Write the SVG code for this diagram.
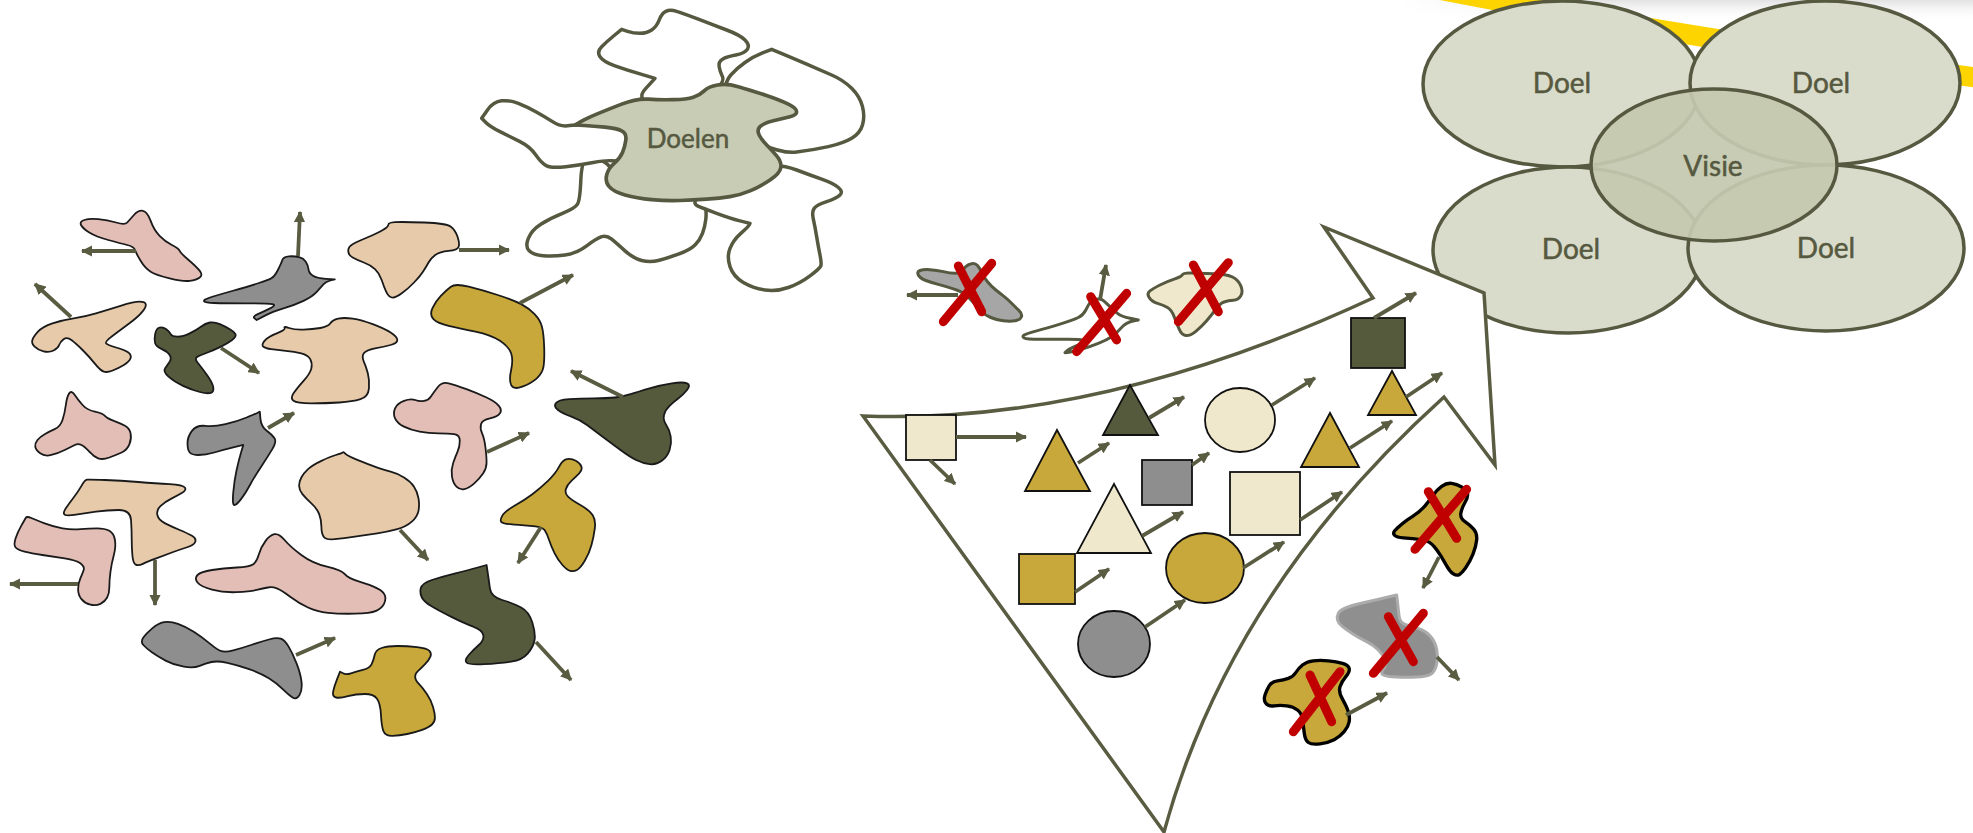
<svg xmlns="http://www.w3.org/2000/svg" width="1973" height="833" viewBox="0 0 1973 833">
<defs>
<style>
.blob{stroke:#1a1a1a;stroke-width:1.8;stroke-linejoin:round;vector-effect:non-scaling-stroke}
.pink{fill:#E3BEB6}.peach{fill:#E6CAAA}.gray{fill:#8E8E8E}.olive{fill:#555A3C}.gold{fill:#C8A83A}.cream{fill:#EFE8CC}
.cl{fill:#fff;stroke:#565940;stroke-width:10.5;stroke-linejoin:round}
.clg{fill:#C8CCB4;stroke:#565940;stroke-width:11;stroke-linejoin:round}
.arr{stroke:#5A5C42;stroke-width:3.8;fill:none;marker-end:url(#ah)}
.x{stroke:#C00000;stroke-width:27;stroke-linecap:round;fill:none}
.geo{stroke:#111;stroke-width:1.8}
.doel{fill:#DADCCB;stroke:#565940;stroke-width:3.5}
.lbl{font-family:Lato,"Open Sans","DejaVu Sans",sans-serif;fill:#565940;stroke:#565940;stroke-width:0.5;text-anchor:middle}
.tb{stroke:#565940;stroke-width:9;stroke-linejoin:round}
.kb{stroke:#000;stroke-width:10;stroke-linejoin:round}
</style>
<marker id="ah" viewBox="0 0 10 10" refX="9" refY="5" markerWidth="3" markerHeight="3" orient="auto" markerUnits="strokeWidth"><path d="M0,0 L10,5 L0,10 Z" fill="#5A5C42"/></marker>
<linearGradient id="shade" x1="0" y1="0" x2="0" y2="1"><stop offset="0" stop-color="#E2E2E2"/><stop offset="1" stop-color="#fff" stop-opacity="0"/></linearGradient>
<linearGradient id="shadeH" x1="0" y1="0" x2="1" y2="0"><stop offset="0" stop-color="#fff" stop-opacity="1"/><stop offset="0.35" stop-color="#fff" stop-opacity="0"/></linearGradient>
</defs>
<rect width="1973" height="833" fill="#fff"/>

<g id="band">
<rect x="1400" y="0" width="573" height="22" fill="url(#shade)"/>
<rect x="1400" y="0" width="573" height="22" fill="url(#shadeH)"/>
<path d="M1390,-20 Q1680,38 1980,78" stroke="#FDD300" stroke-width="20" fill="none"/>
</g>

<g id="vision">
<g id="doel-tl"><ellipse class="doel" cx="1562" cy="84" rx="139" ry="83"/><text class="lbl" x="1562" y="93" font-size="28">Doel</text></g>
<g id="doel-tr"><ellipse class="doel" cx="1825" cy="83" rx="135" ry="82"/><text class="lbl" x="1821" y="93" font-size="28">Doel</text></g>
<g id="doel-bl"><ellipse class="doel" cx="1568" cy="250" rx="135" ry="83"/><text class="lbl" x="1571" y="259" font-size="28">Doel</text></g>
<g id="doel-br"><ellipse class="doel" cx="1826" cy="248" rx="138" ry="83"/><text class="lbl" x="1826" y="258" font-size="28">Doel</text></g>
<g id="visie"><ellipse cx="1714" cy="165" rx="123" ry="76" fill="#C4C8AE" fill-opacity="0.93" stroke="#565940" stroke-width="3.5"/><text class="lbl" x="1713" y="176" font-size="28">Visie</text></g>
</g>

<g id="doelen" transform="translate(460,0) scale(0.33333)">
<path class="cl" d="M382.5,475 Q365,480 362.5,540 Q360,600 352.5,612.5 Q345,625 307.5,640 Q270,655 242.5,672.5 Q215,690 205,715 Q195,740 207.5,752.5 Q220,765 250,767.5 Q280,770 315,765 Q350,760 380,737.5 Q410,715 425,710 Q440,705 455,717.5 Q470,730 495,752.5 Q520,775 545,781.5 Q570,788 595,781.5 Q620,775 655,762.5 Q690,750 705,735 Q720,720 727.5,700 Q735,680 737.5,657.5 Q740,635 735,602.5 Q730,570 665,565 Q600,560 540,545 Q480,530 467.5,520 Q455,510 447.5,499 Q440,488 420,479 Q400,470 382.5,475Z"/>
<path class="cl" d="M717.5,585 Q695,610 712.5,617.5 Q730,625 770,640 Q810,655 840,662.5 L870,670 L867.5,675 Q865,680 842.5,700 Q820,720 810,745 Q800,770 810,800 Q820,830 850,847.5 Q880,865 915,870 Q950,875 985,862.5 Q1020,850 1050,827.5 Q1080,805 1082.5,797.5 Q1085,790 1080,765 Q1075,740 1070,710 Q1065,680 1060,657.5 Q1055,635 1062.5,625 Q1070,615 1100,605 Q1130,595 1140,585 Q1150,575 1135,562.5 Q1120,550 1085,537.5 Q1050,525 1010,510 Q970,495 935,497.5 Q900,500 820,530 Q740,560 717.5,585Z"/>
<path class="cl" d="M422.5,367.5 Q345,375 322.5,377.5 Q300,380 277.5,365 Q255,350 227.5,335 Q200,320 175,310 Q150,300 125,302.5 Q100,305 82.5,330 L65,355 L77.5,367.5 Q90,380 120,395 Q150,410 180,425 Q210,440 227.5,465 Q245,490 260,497.5 Q275,505 317.5,500 Q360,495 400,487.5 Q440,480 457.5,482.5 Q475,485 517.5,462.5 Q560,440 530,400 Q500,360 422.5,367.5Z"/>
<path class="cl" d="M565,307.5 Q530,295 557.5,265 L585,235 L542.5,222.5 Q500,210 465,197.5 Q430,185 420,170 Q410,155 425,140 Q440,125 462.5,106.5 L485,88 L502.5,94 Q520,100 540,100 Q560,100 575,90 Q590,80 597.5,60 Q605,40 617.5,34 Q630,28 650,34 Q670,40 715,57.5 Q760,75 800,90 Q840,105 855,120 Q870,135 862.5,147.5 Q855,160 827.5,165 Q800,170 787.5,177.5 Q775,185 777.5,200 Q780,215 787.5,230 Q795,245 757.5,282.5 Q720,320 660,320 Q600,320 565,307.5Z"/>
<path class="cl" d="M797.5,272.5 Q795,245 812.5,225 Q830,205 855,187.5 Q880,170 907.5,159 L935,148 L967.5,161.5 Q1000,175 1040,192.5 Q1080,210 1115,225 Q1150,240 1175,265 Q1200,290 1207.5,320 Q1215,350 1207.5,375 Q1200,400 1175,415 Q1150,430 1105,440 Q1060,450 1010,456 Q960,462 880,421 Q800,380 800,340 Q800,300 797.5,272.5Z"/>
<path class="clg" d="M372.5,376.5 L345,375 L362.5,365 Q380,355 410,342.5 Q440,330 485,312.5 Q530,295 565,297.5 Q600,300 640,299 Q680,298 700,291.5 Q720,285 732.5,272.5 Q745,260 772.5,255 Q800,250 835,260 Q870,270 915,285 Q960,300 985,312.5 Q1010,325 1010,335 Q1010,345 990,350 Q970,355 940,362.5 Q910,370 900,380 Q890,390 897.5,405 Q905,420 920,435 Q935,450 950,467.5 Q965,485 962.5,502.5 Q960,520 930,540 Q900,560 870,572.5 Q840,585 810,590 Q780,595 740,597.5 Q700,600 660,601.5 Q620,603 575,599 Q530,595 495,585 Q460,575 447.5,560 Q435,545 440,525 Q445,505 462.5,490 Q480,475 487.5,457.5 Q495,440 497.5,420 Q500,400 485,392.5 Q470,385 435,381.5 Q400,378 372.5,376.5Z"/>
</g>
<text class="lbl" x="688" y="148" font-size="26">Doelen</text>

<g id="left-shapes" transform="translate(0,180) scale(0.4464,0.33333)">
<path id="s1" class="blob pink" d="M181.5,135 Q178,125 189,120 Q200,115 220,117.5 Q240,120 260,127.5 Q280,135 285,127.5 Q290,120 300,105 Q310,90 320,92.5 Q330,95 337.5,122.5 Q345,150 357.5,167.5 Q370,185 385,195 Q400,205 402.5,212.5 Q405,220 422.5,240 Q440,260 447.5,272.5 Q455,285 447.5,292.5 Q440,300 425,302.5 Q410,305 380,295 Q350,285 337.5,275 Q325,265 315,242.5 Q305,220 302.5,210 Q300,200 285,195 Q270,190 242.5,180 Q215,170 200,157.5 Q185,145 181.5,135Z"/>
<path id="s2" class="blob gray" d="M457.5,364 Q455,360 467.5,354 Q480,348 520,333 Q560,318 580,309 Q600,300 607.5,295 Q615,290 622.5,270 Q630,250 632.5,240 Q635,230 647.5,229 Q660,228 670,231.5 Q680,235 685,245 Q690,255 691,267.5 Q692,280 701,287.5 Q710,295 730,296.5 L750,298 L740,301.5 Q730,305 725,312.5 Q720,320 710,335 Q700,350 680,362.5 Q660,375 635,385 Q610,395 592.5,407.5 L575,420 L570,415 Q565,410 577.5,402.5 Q590,395 605,385 Q620,375 610,372.5 Q600,370 550,370 Q500,370 480,369 Q460,368 457.5,364Z"/>
<path id="s3" class="blob peach" d="M780,212.5 Q780,200 790,192.5 Q800,185 822.5,172.5 Q845,160 857.5,150 Q870,140 870,134 Q870,128 885,126.5 Q900,125 950,127.5 Q1000,130 1010,140 Q1020,150 1025,170 Q1030,190 1027.5,200 Q1025,210 1005,212.5 Q985,215 975,225 Q965,235 960,247.5 Q955,260 947.5,275 Q940,290 927.5,307.5 Q915,325 900,340 Q885,355 877.5,352.5 Q870,350 865,335 Q860,320 855,300 Q850,280 840,267.5 Q830,255 815,247.5 Q800,240 790,232.5 Q780,225 780,212.5Z"/>
<path id="s4" class="blob gold" d="M1010,320 Q1020,310 1050,320 Q1080,330 1115,345 Q1150,360 1167.5,372.5 Q1185,385 1197.5,402.5 Q1210,420 1214,440 Q1218,460 1219,500 Q1220,540 1217.5,560 Q1215,580 1202.5,595 Q1190,610 1170,620 Q1150,630 1145,615 Q1140,600 1145,570 Q1150,540 1145,520 Q1140,500 1120,482.5 Q1100,465 1065,455 Q1030,445 1005,437.5 Q980,430 971,417.5 Q962,405 968.5,385 Q975,365 987.5,347.5 Q1000,330 1010,320Z"/>
<path id="s5" class="blob peach" d="M72.5,480 Q75,470 85,455 Q95,440 117.5,430 Q140,420 165,415 Q190,410 215,400 Q240,390 270,377.5 Q300,365 312.5,365 Q325,365 326.5,372.5 Q328,380 319,395 Q310,410 290,430 Q270,450 252.5,467.5 Q235,485 237.5,490 Q240,495 260,502.5 Q280,510 287.5,517.5 Q295,525 292.5,535 Q290,545 277.5,555 Q265,565 252.5,571.5 Q240,578 232.5,575 Q225,572 212.5,551 Q200,530 185,510 Q170,490 160,480 Q150,470 142.5,477.5 Q135,485 132.5,495 Q130,505 120,511.5 Q110,518 97.5,514 Q85,510 77.5,500 Q70,490 72.5,480Z"/>
<path id="s6" class="blob olive" d="M347.5,490 Q345,480 347.5,462.5 Q350,445 357.5,442.5 Q365,440 372.5,447.5 Q380,455 382.5,462.5 Q385,470 397.5,470 Q410,470 425,460 Q440,450 450,440 Q460,430 470,427.5 Q480,425 492.5,432.5 Q505,440 515,447.5 Q525,455 527.5,462.5 Q530,470 520,480 Q510,490 495,500 Q480,510 465,517.5 Q450,525 442.5,530 Q435,535 442.5,547.5 Q450,560 462.5,582.5 Q475,605 477.5,620 Q480,635 472.5,638.5 Q465,642 447.5,636 Q430,630 410,617.5 Q390,605 377.5,590 Q365,575 370,565 Q375,555 380,545 Q385,535 380,525 Q375,515 362.5,507.5 Q350,500 347.5,490Z"/>
<path id="s7" class="blob peach" d="M590,500 Q585,495 592.5,482.5 Q600,470 620,460 Q640,450 637.5,444 Q635,438 647.5,444 Q660,450 680,449 Q700,448 717.5,444 Q735,440 740,430 Q745,420 757.5,416 Q770,412 790,416 Q810,420 835,432.5 Q860,445 875,457.5 Q890,470 890,480 Q890,490 875,495 Q860,500 840,505 Q820,510 815,520 Q810,530 815,545 Q820,560 824,580 Q828,600 826.5,625 Q825,650 807.5,657.5 Q790,665 760,667.5 Q730,670 697.5,670 Q665,670 657.5,662.5 Q650,655 657.5,640 Q665,625 680,602.5 Q695,580 697.5,565 Q700,550 695,537.5 Q690,525 675,520 Q660,515 640,512.5 Q620,510 607.5,507.5 Q595,505 590,500Z"/>
<path id="s8" class="blob pink" d="M90,820 Q80,810 79,800 Q78,790 84,780 Q90,770 100,762.5 Q110,755 122.5,747.5 Q135,740 140,720 Q145,700 147.5,675 Q150,650 155,640 Q160,630 167.5,645 Q175,660 185,675 Q195,690 212.5,695 Q230,700 235,707.5 Q240,715 255,722.5 Q270,730 280,737.5 Q290,745 292.5,760 Q295,775 290,792.5 Q285,810 272.5,817.5 Q260,825 245,832.5 Q230,840 220,835 Q210,830 200,815 Q190,800 182.5,795 Q175,790 167.5,795 Q160,800 145,810 Q130,820 115,825 Q100,830 90,820Z"/>
<path id="s9" class="blob gray" d="M425,817.5 Q420,810 420,790 Q420,770 430,752.5 Q440,735 460,737.5 Q480,740 505,732.5 Q530,725 552.5,712.5 Q575,700 578.5,697.5 L582,695 L583.5,717.5 Q585,740 597.5,752.5 Q610,765 615,775 Q620,785 610,807.5 Q600,830 585,860 Q570,890 560,915 Q550,940 540,957.5 Q530,975 525,975 Q520,975 522.5,937.5 Q525,900 530,870 Q535,840 540,817.5 L545,795 L522.5,802.5 Q500,810 480,817.5 Q460,825 445,825 Q430,825 425,817.5Z"/>
<path id="s10" class="blob pink" d="M885,715 Q880,700 885,685 Q890,670 905,662.5 Q920,655 930,660 Q940,665 950,662.5 Q960,660 965,650 Q970,640 980,622.5 Q990,605 1005,610 Q1020,615 1045,627.5 Q1070,640 1090,652.5 Q1110,665 1117.5,677.5 Q1125,690 1120,700 Q1115,710 1097.5,715 Q1080,720 1077.5,732.5 Q1075,745 1080,760 Q1085,775 1087.5,802.5 Q1090,830 1090,847.5 Q1090,865 1082.5,880 Q1075,895 1062.5,910 Q1050,925 1040,927.5 Q1030,930 1022.5,920 Q1015,910 1012.5,890 Q1010,870 1015,850 Q1020,830 1025,815 Q1030,800 1030,782.5 Q1030,765 1017.5,762.5 Q1005,760 982.5,760 Q960,760 940,755 Q920,750 905,740 Q890,730 885,715Z"/>
<path id="s11" class="blob olive" d="M1250,690 Q1240,680 1245,670 Q1250,660 1275,657.5 Q1300,655 1330,655 Q1360,655 1377.5,652.5 Q1395,650 1412.5,642.5 Q1430,635 1455,625 Q1480,615 1505,610 Q1530,605 1539,610 Q1548,615 1539,630 Q1530,645 1520,655 Q1510,665 1500,677.5 Q1490,690 1487.5,705 Q1485,720 1492.5,735 Q1500,750 1502.5,770 Q1505,790 1500,810 Q1495,830 1482.5,842.5 Q1470,855 1455,852.5 Q1440,850 1425,840 Q1410,830 1390,810 Q1370,790 1350,770 Q1330,750 1315,735 Q1300,720 1280,710 Q1260,700 1250,690Z"/>
<path id="s12" class="blob peach" d="M670,917.5 Q670,905 675,892.5 Q680,880 690,867.5 Q700,855 720,842.5 Q740,830 752.5,825 Q765,820 767.5,817.5 Q770,815 772.5,820 Q775,825 792.5,835 Q810,845 835,857.5 Q860,870 875,875 Q890,880 905,892.5 Q920,905 927.5,920 Q935,935 937.5,955 Q940,975 937.5,992.5 Q935,1010 922.5,1025 Q910,1040 890,1047.5 Q870,1055 845,1060 Q820,1065 795,1070 Q770,1075 750,1077.5 Q730,1080 725,1070 Q720,1060 720,1040 Q720,1020 715,1002.5 Q710,985 697.5,970 Q685,955 677.5,942.5 Q670,930 670,917.5Z"/>
<path id="s13" class="blob gold" d="M1122.5,1025 Q1120,1020 1125,1007.5 Q1130,995 1152.5,977.5 Q1175,960 1192.5,942.5 Q1210,925 1227.5,902.5 Q1245,880 1252.5,860 Q1260,840 1270,837.5 Q1280,835 1290,842.5 Q1300,850 1302.5,860 Q1305,870 1297.5,880 Q1290,890 1280,902.5 Q1270,915 1267.5,927.5 Q1265,940 1272.5,950 Q1280,960 1300,975 Q1320,990 1327.5,1005 Q1335,1020 1332.5,1045 Q1330,1070 1325,1095 Q1320,1120 1310,1142.5 Q1300,1165 1292.5,1170 Q1285,1175 1277.5,1172.5 Q1270,1170 1260,1155 Q1250,1140 1242.5,1120 Q1235,1100 1230,1080 Q1225,1060 1220,1050 Q1215,1040 1187.5,1037.5 Q1160,1035 1142.5,1032.5 Q1125,1030 1122.5,1025Z"/>
<path id="s14" class="blob peach" d="M145,1004 Q140,1000 147.5,985 Q155,970 165,952.5 Q175,935 182.5,917.5 Q190,900 195,899 Q200,898 235,900 Q270,902 310,906 Q350,910 380,912.5 Q410,915 414,922.5 Q418,930 409,937.5 Q400,945 385,955 Q370,965 360,977.5 Q350,990 352.5,1005 Q355,1020 370,1030 Q385,1040 402.5,1050 Q420,1060 430,1067.5 Q440,1075 437.5,1085 Q435,1095 417.5,1102.5 Q400,1110 385,1117.5 Q370,1125 350,1135 Q330,1145 320,1151.5 Q310,1158 304,1154 Q298,1150 296.5,1125 Q295,1100 295,1075 Q295,1050 293.5,1020 Q292,990 266,990 Q240,990 215,995 Q190,1000 170,1004 Q150,1008 145,1004Z"/>
<path id="s15" class="blob pink" d="M35,1102.5 Q30,1095 35,1075 Q40,1055 47.5,1037.5 Q55,1020 57.5,1014 Q60,1008 70,1014 Q80,1020 100,1030 Q120,1040 140,1045 Q160,1050 180,1047.5 Q200,1045 217.5,1045 Q235,1045 245,1052.5 Q255,1060 257.5,1080 Q260,1100 255,1125 Q250,1150 247.5,1175 Q245,1200 245,1220 Q245,1240 240,1252.5 Q235,1265 225,1271.5 Q215,1278 202.5,1274 Q190,1270 182.5,1257.5 Q175,1245 175,1227.5 Q175,1210 180,1195 Q185,1180 187.5,1170 Q190,1160 180,1150 Q170,1140 145,1135 Q120,1130 95,1125 Q70,1120 55,1115 Q40,1110 35,1102.5Z"/>
<path id="s16" class="blob pink" d="M442.5,1207.5 Q435,1195 442.5,1185 Q450,1175 475,1170 Q500,1165 530,1162.5 Q560,1160 567.5,1152.5 Q575,1145 580,1122.5 Q585,1100 595,1082.5 Q605,1065 615,1062.5 Q625,1060 637.5,1080 Q650,1100 675,1125 Q700,1150 732.5,1160 Q765,1170 772.5,1182.5 Q780,1195 805,1205 Q830,1215 845,1225 Q860,1235 862.5,1247.5 Q865,1260 860,1272.5 Q855,1285 842.5,1292.5 Q830,1300 795,1301 Q760,1302 735,1298.5 Q710,1295 690,1282.5 Q670,1270 650,1250 Q630,1230 620,1225 Q610,1220 600,1222.5 Q590,1225 575,1230 Q560,1235 530,1236.5 Q500,1238 475,1229 Q450,1220 442.5,1207.5Z"/>
<path id="s17" class="blob olive" d="M945,1252.5 Q940,1240 942.5,1225 Q945,1210 967.5,1200 Q990,1190 1020,1180 Q1050,1170 1070,1162.5 L1090,1155 L1092.5,1177.5 Q1095,1200 1097.5,1225 Q1100,1250 1125,1260 Q1150,1270 1167.5,1282.5 Q1185,1295 1192.5,1327.5 Q1200,1360 1197.5,1380 Q1195,1400 1182.5,1420 Q1170,1440 1145,1445 Q1120,1450 1085,1452.5 Q1050,1455 1045,1447.5 Q1040,1440 1050,1425 Q1060,1410 1072.5,1395 Q1085,1380 1082.5,1365 Q1080,1350 1060,1340 Q1040,1330 1010,1310 Q980,1290 965,1277.5 Q950,1265 945,1252.5Z"/>
</g>
<g id="bottom-shapes" transform="translate(0,540) scale(0.3954,0.33333)">
<path id="s18" class="blob gray" d="M362.5,315 Q355,305 362.5,292.5 Q370,280 385,265 Q400,250 415,246.5 Q430,243 450,251.5 Q470,260 490,275 Q510,290 530,310 Q550,330 560,333.5 Q570,337 590,331 Q610,325 635,315 Q660,305 680,298.5 Q700,292 710,296 Q720,300 730,320 Q740,340 750,370 Q760,400 762.5,425 Q765,450 757.5,465 Q750,480 740,472.5 Q730,465 715,447.5 Q700,430 680,415 Q660,400 630,387.5 Q600,375 575,368.5 Q550,362 535,366 Q520,370 505,377.5 Q490,385 465,380 Q440,375 420,362.5 Q400,350 385,337.5 Q370,325 362.5,315Z"/>
<path id="s19" class="blob gold" d="M850,472.5 Q840,470 842.5,455 Q845,440 852.5,417.5 L860,395 L867.5,400 Q875,405 887.5,400 Q900,395 917.5,390 Q935,385 940,372.5 Q945,360 947.5,345 Q950,330 965,324 Q980,318 1005,318 Q1030,318 1055,321.5 Q1080,325 1086,332.5 Q1092,340 1088.5,350 Q1085,360 1075,372.5 Q1065,385 1057.5,392.5 Q1050,400 1050,410 Q1050,420 1060,432.5 Q1070,445 1080,462.5 Q1090,480 1095,500 Q1100,520 1100,532.5 Q1100,545 1092.5,553.5 Q1085,562 1067.5,569.5 Q1050,577 1030,582 Q1010,587 992.5,587.5 Q975,588 970,574 Q965,560 963.5,525 Q962,490 953.5,476 Q945,462 922.5,462 Q900,462 880,468.5 Q860,475 850,472.5Z"/>
</g>

<g id="big-arrow"><path d="M863,416 Q1100,425 1373,298 L1324,227 L1484,293 L1495,465 L1444,397 Q1230,590 1164,832 Z" fill="#fff" stroke="#5A5C42" stroke-width="3.5" stroke-linejoin="miter"/></g>

<g id="funnel-shapes">
<rect id="f-cream-sq" class="geo cream" x="906" y="415" width="50" height="45"/>
<polygon id="f-gold-tri" class="geo gold" points="1057,430 1025,491 1090,491"/>
<polygon id="f-olive-tri" class="geo olive" points="1130,385 1103,435 1158,435"/>
<ellipse id="f-cream-circ" class="geo cream" cx="1240" cy="420" rx="35" ry="32"/>
<rect id="f-gray-sq" class="geo gray" x="1142" y="460" width="50" height="45"/>
<polygon id="f-cream-tri" class="geo cream" points="1114,484 1077,553 1151,553"/>
<rect id="f-gold-sq" class="geo gold" x="1019" y="554" width="56" height="50"/>
<ellipse id="f-gold-circ" class="geo gold" cx="1205" cy="568" rx="39" ry="35"/>
<ellipse id="f-gray-circ" class="geo gray" cx="1114" cy="644" rx="36" ry="33"/>
<rect id="f-cream-sq2" class="geo cream" x="1230" y="472" width="70" height="63"/>
<polygon id="f-gold-tri2" class="geo gold" points="1330,413 1301,467 1359,467"/>
<polygon id="f-gold-tri3" class="geo gold" points="1392,371 1368,415 1416,415"/>
<rect id="f-olive-sq" class="geo olive" x="1351" y="318" width="54" height="50"/>
</g>

<g id="rejected-top" transform="translate(900,240) scale(0.33333)">
<path class="tb" fill="#A6A6A6" d="M55,105 Q50,95 60,91.5 Q70,88 90,89 Q110,90 130,95 Q150,100 165,100 Q180,100 190,87.5 Q200,75 212.5,71.5 Q225,68 232.5,76.5 Q240,85 245,97.5 Q250,110 262.5,125 Q275,140 287.5,150 Q300,160 310,167.5 Q320,175 332.5,187.5 Q345,200 356.5,211 Q368,222 364,231 Q360,240 345,242.5 Q330,245 310,242.5 Q290,240 272.5,232.5 Q255,225 247.5,217.5 Q240,210 225,192.5 Q210,175 197.5,165 Q185,155 162.5,147.5 Q140,140 117.5,134 Q95,128 77.5,121.5 Q60,115 55,105Z"/>
<path class="tb" fill="#fff" d="M372.5,294 Q365,290 372.5,285 Q380,280 410,272.5 Q440,265 480,252.5 Q520,240 535,232.5 Q550,225 557.5,210 Q565,195 570,187.5 Q575,180 587.5,177.5 Q600,175 607.5,180 Q615,185 627.5,197.5 Q640,210 652.5,220 Q665,230 690,235 L715,240 L702.5,242.5 Q690,245 680,250 Q670,255 660,267.5 Q650,280 635,290 Q620,300 595,310 Q570,320 545,327.5 Q520,335 507.5,336.5 L495,338 L502.5,331.5 Q510,325 535,315 L560,305 L552.5,301.5 Q545,298 502.5,298 Q460,298 420,298 Q380,298 372.5,294Z"/>
<path class="tb" fill="#EFE8CC" d="M747.5,172.5 Q740,160 750,152.5 Q760,145 780,135 Q800,125 822.5,117.5 Q845,110 847.5,104 Q850,98 875,99 Q900,100 940,101 Q980,102 997.5,111 Q1015,120 1022.5,137.5 Q1030,155 1022.5,167.5 Q1015,180 1000,181 Q985,182 972.5,186 Q960,190 947.5,207.5 Q935,225 920,242.5 Q905,260 887.5,274 Q870,288 857.5,286.5 Q845,285 837.5,267.5 Q830,250 822.5,230 Q815,210 802.5,202.5 Q790,195 772.5,190 Q755,185 747.5,172.5Z"/>
</g>

<g id="rejected-bottom" transform="translate(1240,460) scale(0.33333)">
<path class="kb" fill="#C8A83A" d="M464,226 Q458,220 464,212.5 Q470,205 485,192.5 Q500,180 520,167.5 Q540,155 555,137.5 Q570,120 580,105 Q590,90 605,79 Q620,68 635,70 Q650,72 665,81 Q680,90 682.5,100 Q685,110 675,127.5 Q665,145 662.5,160 Q660,175 675,185 Q690,195 701,207.5 Q712,220 710,240 Q708,260 699,282.5 Q690,305 677.5,322.5 Q665,340 657.5,344 Q650,348 640,341.5 Q630,335 620,317.5 Q610,300 602.5,287.5 Q595,275 582.5,260 Q570,245 555,241.5 Q540,238 525,236.5 Q510,235 490,233.5 Q470,232 464,226Z"/>
<path fill="#8F8F8F" stroke="#ABABAB" stroke-width="9" stroke-linejoin="round" d="M292.5,480 Q290,470 295,460 Q300,450 320,442.5 Q340,435 370,428.5 Q400,422 435,413.5 L470,405 L472.5,427.5 Q475,450 477.5,470 Q480,490 500,495 Q520,500 540,507.5 Q560,515 572.5,530 Q585,545 590,567.5 Q595,590 590,612.5 Q585,635 572.5,642.5 Q560,650 530,651 Q500,652 470,651 Q440,650 430,645 Q420,640 430,627.5 Q440,615 435,600 Q430,585 415,570 Q400,555 380,545 Q360,535 340,522.5 Q320,510 307.5,500 Q295,490 292.5,480Z"/>
<path class="kb" fill="#C8A83A" d="M77.5,730 Q70,720 75,705 Q80,690 87.5,677.5 Q95,665 112.5,662.5 Q130,660 145,655 Q160,650 167.5,637.5 Q175,625 187.5,615 Q200,605 220,602.5 Q240,600 265,602.5 Q290,605 307.5,610 Q325,615 327.5,625 Q330,635 317.5,650 Q305,665 300,680 Q295,695 307.5,717.5 Q320,740 325,755 Q330,770 327.5,785 Q325,800 312.5,815 Q300,830 282.5,839 Q265,848 240,851.5 Q215,855 205,847.5 Q195,840 192.5,817.5 Q190,795 187.5,777.5 Q185,760 172.5,750 Q160,740 140,737.5 Q120,735 102.5,737.5 Q85,740 77.5,730Z"/>
</g>

<g id="connectors">
<line class="arr" x1="136" y1="251" x2="82" y2="251"/>
<line class="arr" x1="298" y1="256" x2="300" y2="212"/>
<line class="arr" x1="459" y1="250" x2="509" y2="250"/>
<line class="arr" x1="520" y1="303" x2="573" y2="275"/>
<line class="arr" x1="71" y1="317" x2="35" y2="284"/>
<line class="arr" x1="221" y1="348" x2="259" y2="373"/>
<line class="arr" x1="268" y1="428" x2="294" y2="413"/>
<line class="arr" x1="487" y1="452" x2="529" y2="433"/>
<line class="arr" x1="623" y1="397" x2="571" y2="371"/>
<line class="arr" x1="400" y1="530" x2="428" y2="560"/>
<line class="arr" x1="541" y1="527" x2="518" y2="563"/>
<line class="arr" x1="155" y1="560" x2="155" y2="605"/>
<line class="arr" x1="78" y1="584" x2="10" y2="584"/>
<line class="arr" x1="536" y1="642" x2="571" y2="680"/>
<line class="arr" x1="296" y1="655" x2="335" y2="638"/>
<line class="arr" x1="956" y1="437" x2="1026" y2="437"/>
<line class="arr" x1="930" y1="460" x2="955" y2="484"/>
<line class="arr" x1="1078" y1="463" x2="1109" y2="443"/>
<line class="arr" x1="1149" y1="418" x2="1184" y2="397"/>
<line class="arr" x1="1272" y1="405" x2="1315" y2="378"/>
<line class="arr" x1="1192" y1="465" x2="1209" y2="453"/>
<line class="arr" x1="1142" y1="536" x2="1183" y2="512"/>
<line class="arr" x1="1075" y1="592" x2="1109" y2="569"/>
<line class="arr" x1="1243" y1="568" x2="1284" y2="542"/>
<line class="arr" x1="1145" y1="627" x2="1185" y2="600"/>
<line class="arr" x1="1300" y1="520" x2="1342" y2="492"/>
<line class="arr" x1="1350" y1="448" x2="1392" y2="421"/>
<line class="arr" x1="1406" y1="397" x2="1442" y2="373"/>
<line class="arr" x1="1374" y1="318" x2="1416" y2="293"/>
<line class="arr" x1="958" y1="295" x2="907" y2="295"/>
<line class="arr" x1="1100" y1="300" x2="1106" y2="265"/>
<line class="arr" x1="1439" y1="557" x2="1423" y2="588"/>
<line class="arr" x1="1437" y1="657" x2="1459" y2="680"/>
<line class="arr" x1="1346" y1="715" x2="1387" y2="693"/>
</g>

<g id="crosses-top" transform="translate(900,240) scale(0.33333)">
<path class="x" d="M175,78 L245,215 M275,70 L130,245"/>
<path class="x" d="M572,170 L650,300 M680,160 L530,335"/>
<path class="x" d="M880,75 L955,215 M985,68 L835,245"/>
</g>
<g id="crosses-bottom" transform="translate(1240,460) scale(0.33333)">
<path class="x" d="M565,95 L650,235 M680,88 L525,268"/>
<path class="x" d="M445,470 L520,605 M550,460 L400,640"/>
<path class="x" d="M210,645 L275,785 M300,635 L160,815"/>
</g>
</svg>
